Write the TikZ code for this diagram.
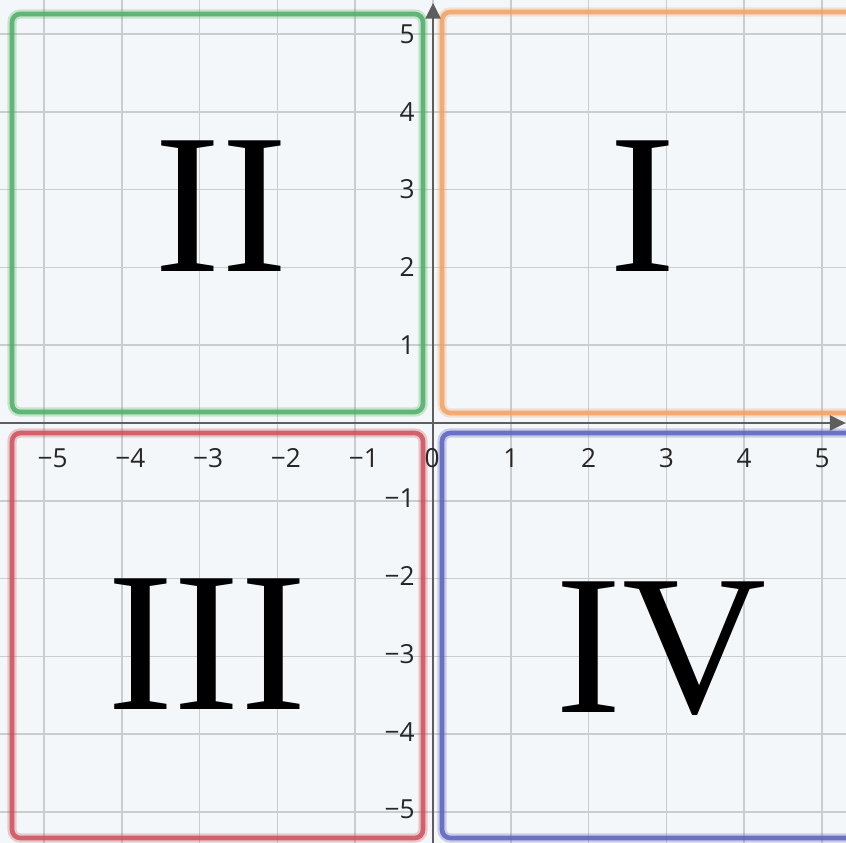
\documentclass[tikz,border=0pt]{standalone}
\usepackage{fontspec}
\setmainfont{Liberation Serif}
\newfontfamily\labelfont{Open Sans}
\usetikzlibrary{arrows.meta}
\definecolor{bgc}{HTML}{F4F7FA}
\definecolor{gridc}{HTML}{CACDD0}
\definecolor{axisc}{HTML}{5E5E5E}
\definecolor{qgreen}{HTML}{4FB066}
\definecolor{qorange}{HTML}{F2A265}
\definecolor{qred}{HTML}{CF4F5A}
\definecolor{qblue}{HTML}{5B63BE}
\tikzset{
  gridline/.style={draw=gridc, line width=0.6pt},
  axisline/.style={draw=axisc, line width=0.85pt, -{Triangle[length=5.8pt,width=5.5pt]}},
  halo/.style={line width=3.4pt, opacity=0.28, rounded corners=3pt},
  quad/.style={line width=1.7pt, opacity=0.85, rounded corners=3pt},
  numeral/.style={anchor=base, inner sep=0pt, font=\fontsize{73}{73}\selectfont},
  xlab/.style={anchor=center, inner sep=0pt, font=\labelfont\fontsize{9.6}{10}\selectfont, text=black!85},
  ylab/.style={anchor=east, inner sep=0pt, font=\labelfont\fontsize{9.6}{10}\selectfont, text=black!85},
}
\begin{document}
\begin{tikzpicture}[x=1cm,y=1cm]
\useasboundingbox (-5.566,-5.398) rectangle (5.308,5.437);
\fill[bgc] (-5.566,-5.398) rectangle (5.308,5.437);
% grid
\foreach \i in {-5,...,5} {
  \draw[gridline] (\i,-5.398) -- (\i,5.437);
  \draw[gridline] (-5.566,\i) -- (5.308,\i);
}
% quadrant boxes
\draw[halo, qgreen] (-5.411,0.141) rectangle (-0.129,5.257);
\draw[quad, qgreen] (-5.411,0.141) rectangle (-0.129,5.257);
\draw[halo, qorange] (0.116,0.129) rectangle (5.7,5.283);
\draw[quad, qorange] (0.116,0.129) rectangle (5.7,5.283);
\draw[halo, qred] (-5.411,-5.334) rectangle (-0.129,-0.129);
\draw[quad, qred] (-5.411,-5.334) rectangle (-0.129,-0.129);
\draw[halo, qblue] (0.116,-5.334) rectangle (5.7,-0.129);
\draw[quad, qblue] (0.116,-5.334) rectangle (5.7,-0.129);
% axes
\coordinate (xs) at (-5.566,0);
\coordinate (xe) at (5.305,0);
\coordinate (ys) at (0,-5.398);
\coordinate (ye) at (0,5.40);
\draw[axisline] (xs) -- (xe);
\draw[axisline] (ys) -- (ye);
% x labels
\node[xlab] (x0) at (-0.013,-0.45) {0};
\foreach \i in {1,...,5} { \node[xlab] (xp\i) at (\i,-0.45) {\i}; }
\foreach \i in {1,...,5} { \node[xlab] (xn\i) at (-\i+0.11,-0.45) {−\i}; }
% y labels
\foreach \i in {1,...,5} { \node[ylab] (yp\i) at (-0.23,\i) {\i}; }
\foreach \i in {1,...,5} { \node[ylab] (yn\i) at (-0.23,-\i+0.03) {−\i}; }
% numerals
\node[numeral] (q2) at (-2.725,1.941) {II};
\node[numeral] (q1) at (2.699,1.941) {I};
\node[numeral] (q3) at (-2.905,-3.689) {III};
\node[numeral] (q4) at (2.93,-3.715) {IV};
\end{tikzpicture}
\end{document}
